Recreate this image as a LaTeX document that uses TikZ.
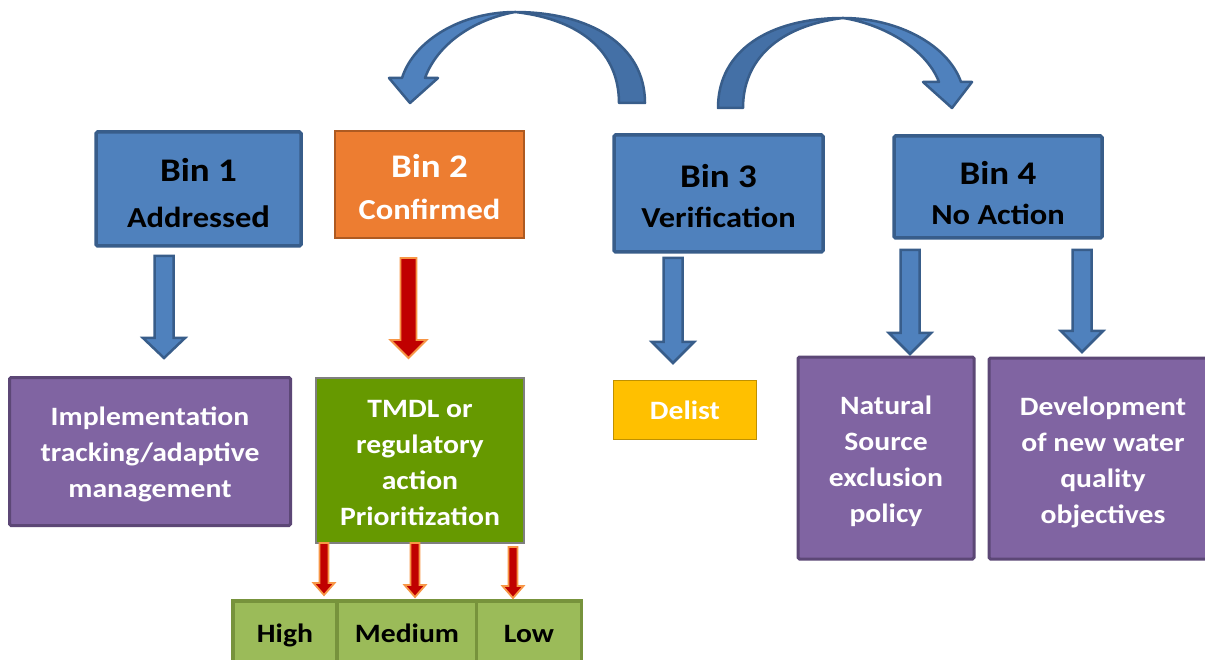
\documentclass[tikz,border=0pt]{standalone}
\usepackage{fontspec}
\setmainfont{Carlito}[FakeStretch=1.12]
\usetikzlibrary{calc}
\definecolor{bfill}{HTML}{4F81BD}
\definecolor{bdark}{HTML}{385D8A}
\definecolor{bshade}{HTML}{4470A6}
\definecolor{ofill}{HTML}{ED7D31}
\definecolor{oline}{HTML}{AE5A21}
\definecolor{pfill}{HTML}{8064A2}
\definecolor{pline}{HTML}{5C4776}
\definecolor{gfill}{HTML}{669900}
\definecolor{gline}{HTML}{7F7F7F}
\definecolor{yfill}{HTML}{FFC000}
\definecolor{yline}{HTML}{BF9000}
\definecolor{rfill}{HTML}{C00000}
\definecolor{rline}{HTML}{F79646}
\definecolor{lgfill}{HTML}{9BBB59}
\definecolor{lgline}{HTML}{77933C}
\newcommand\blockarr[6]{% style, start, tip, half shaft, half head, head length
  \draw[#1] let \p1=(#2), \p2=(#3) in
    (\x1-#4,\y1) -- (\x1+#4,\y1) -- (\x1+#4,\y2+#6) -- (\x1+#5,\y2+#6) --
    (\x2,\y2) -- (\x1-#5,\y2+#6) -- (\x1-#4,\y2+#6) -- cycle;}
\newcommand\bigline[1]{{\fontsize{33}{42}\selectfont #1}}
\begin{document}
\begin{tikzpicture}[x=1pt,y=-1pt,
  every node/.style={align=center, inner sep=0pt},
  binfont/.style={font=\bfseries\fontsize{29}{42}\selectfont},
  bodyfont/.style={font=\bfseries\fontsize{26.5}{36}\selectfont},
  binbox/.style={rectangle, draw=bdark, fill=bfill, line width=3.5pt, rounded corners=1.5pt},
  purplebox/.style={rectangle, draw=pline, fill=pfill, line width=3pt, rounded corners=1.5pt},
  wtext/.style={text=white, bodyfont},
  bluearrow/.style={draw=bdark, fill=bfill, line width=2.5pt, line join=miter},
  redarrow/.style={draw=rline, fill=rfill, line width=1.8pt, line join=miter},
  curvedark/.style={draw=bdark, fill=bshade, line width=2.5pt, line join=round},
  curvelight/.style={draw=bdark, fill=bfill, line width=2.5pt, line join=round},
  lowbox/.style={rectangle, draw=lgline, fill=lgfill, line width=3.5pt, minimum height=70pt,
    bodyfont, text height=19pt, text depth=6pt}]
\useasboundingbox (0,0) rectangle (1205,660);
\fill[white] (0,0) rectangle (1205,660);

% curved arrows
\draw[curvedark] (619,103) -- (645,103) .. controls (645,45) and (590,12) .. (515,12)
   .. controls (585,20) and (619,55) .. (619,103) -- cycle;
\draw[curvelight] (515,12) .. controls (462,12) and (414,40) .. (402,78) -- (389,78) -- (410,103)
   -- (438,78) -- (425,78) .. controls (437,45) and (472,20) .. (515,12) -- cycle;
\draw[curvedark] (743,108) -- (718,108) .. controls (718,50) and (770,18) .. (843,18)
   .. controls (778,26) and (743,60) .. (743,108) -- cycle;
\draw[curvelight] (843,18) .. controls (898,18) and (948,45) .. (961,82) -- (972,82) -- (952,108)
   -- (923,82) -- (939,82) .. controls (926,48) and (882,24) .. (843,18) -- cycle;

% bins
\node[binbox, minimum width=205pt, minimum height=114pt] (bin1) at (198.5,189) {};
\node[binfont] (bin1t) at ($(bin1.center)+(0,4)$)
  {\bigline{Bin 1}\\[4pt]Addresse{\fontsize{31}{42}\selectfont d}};
\node[rectangle, draw=oline, fill=ofill, line width=1.8pt,
  minimum width=189pt, minimum height=107pt] (bin2) at (429.5,184.5) {};
\node[binfont, text=white] (bin2t) at ($(bin2.center)+(0,3)$) {\bigline{Bin 2}\\Confirmed};
\node[binbox, minimum width=209pt, minimum height=117pt] (bin3) at (718.5,193.5) {};
\node[binfont] (bin3t) at ($(bin3.center)+(0,3)$) {\bigline{Bin 3}\\[-2pt]Verification};
\node[binbox, minimum width=208pt, minimum height=102pt] (bin4) at (998,187) {};
\node[binfont] (bin4t) at ($(bin4.center)+(0,6)$) {\bigline{Bin 4}\\[-2pt]No Action};

% result boxes
\node[purplebox, minimum width=281pt, minimum height=148pt] (impl) at (150,451.5) {};
\node[wtext] (implt) at ($(impl.center)+(0,3)$) {Implementation\\tracking/adaptive\\management};
\node[rectangle, draw=gline, fill=gfill, line width=2pt,
  minimum width=208pt, minimum height=165pt] (tmdl) at (420,460.5) {};
\node[wtext] (tmdlt) at ($(tmdl.center)+(0,3)$) {TMDL or\\regulatory\\action\\Prioritization};
\node[rectangle, draw=yline, fill=yfill, line width=1.8pt, wtext,
  text height=25pt, text depth=6pt,
  minimum width=143pt, minimum height=59pt] (delist) at (685,410) {Delist};
\node[purplebox, minimum width=176pt, minimum height=202pt] (nat) at (886,458) {};
\node[wtext] (natt) at ($(nat.center)+(0,3)$) {Natural\\Source\\exclusion\\policy};
\node[purplebox, minimum width=228pt, minimum height=201pt] (dev) at (1103,458.5) {};
\node[wtext] (devt) at ($(dev.center)+(0,4)$) {Development\\of new water\\quality\\objectives};

% priority boxes
\node[lowbox, minimum width=104pt] (high) at (285,636) {High};
\node[lowbox, minimum width=139pt] (med) at (407,636) {Medium};
\node[lowbox, minimum width=105pt] (low) at (529,636) {Low};

% block arrows
\coordinate (a1s) at (164,256); \coordinate (a1e) at (164,358);
\coordinate (a2s) at (408.5,258); \coordinate (a2e) at (408.5,358);
\coordinate (a3s) at (673,258); \coordinate (a3e) at (673,363);
\coordinate (a4s) at (910,250); \coordinate (a4e) at (910,354);
\coordinate (a5s) at (1082,250); \coordinate (a5e) at (1082,352);
\blockarr{bluearrow}{a1s}{a1e}{9.5pt}{21pt}{20pt}
\blockarr{redarrow}{a2s}{a2e}{8pt}{18pt}{18pt}
\blockarr{bluearrow}{a3s}{a3e}{9.5pt}{21pt}{21pt}
\blockarr{bluearrow}{a4s}{a4e}{9.5pt}{21pt}{21pt}
\blockarr{bluearrow}{a5s}{a5e}{9.5pt}{21pt}{21pt}

\coordinate (r1s) at (324,543); \coordinate (r1e) at (324,595);
\coordinate (r2s) at (415,543); \coordinate (r2e) at (415,597);
\coordinate (r3s) at (513,547); \coordinate (r3e) at (513,598);
\blockarr{redarrow}{r1s}{r1e}{4.5pt}{10.5pt}{12pt}
\blockarr{redarrow}{r2s}{r2e}{4.5pt}{10.5pt}{12pt}
\blockarr{redarrow}{r3s}{r3e}{4.5pt}{10.5pt}{12pt}
\end{tikzpicture}
\end{document}
